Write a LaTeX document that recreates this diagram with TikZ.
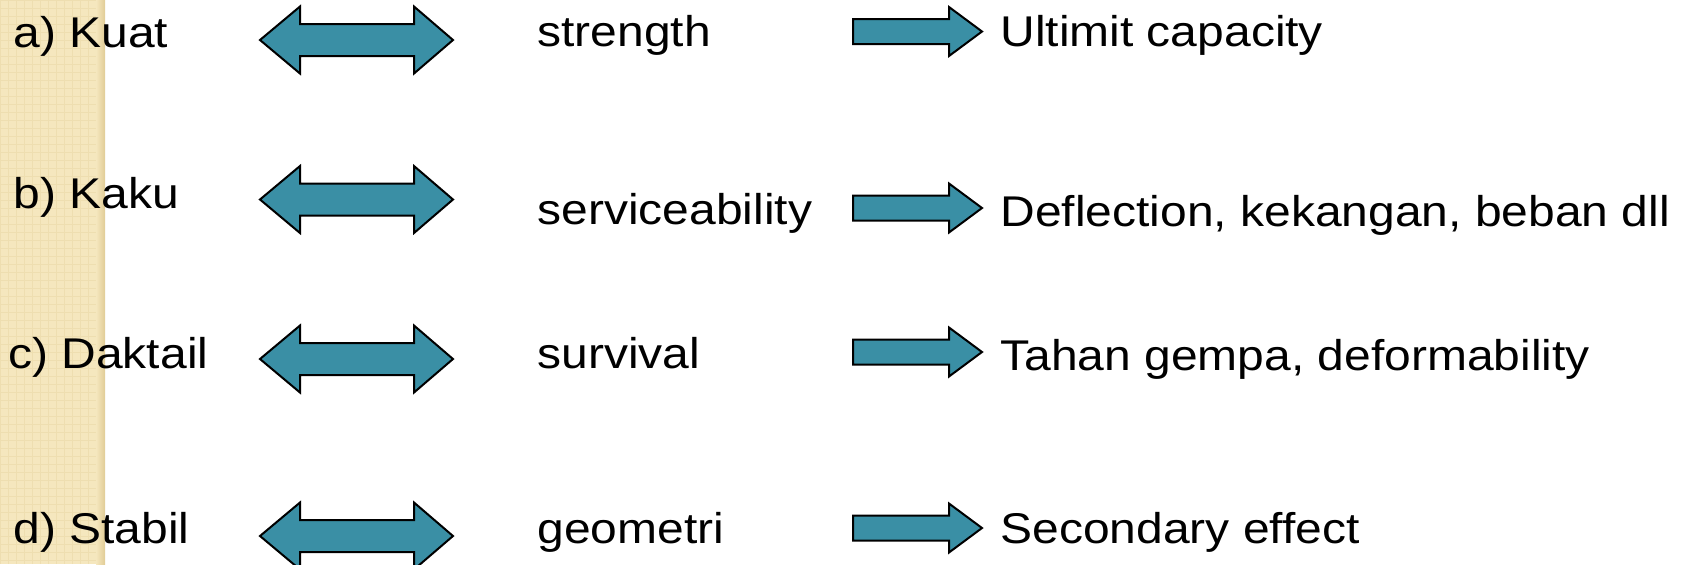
\documentclass[tikz,border=0pt]{standalone}
\usepackage{fontspec}
\setmainfont{Liberation Sans}
\usepackage{graphicx}
\definecolor{arrowfill}{RGB}{58,143,165}
\definecolor{stripbg}{RGB}{245,231,190}
\definecolor{stripline}{RGB}{238,222,176}
\definecolor{stripedge}{RGB}{225,204,150}
\newcommand{\wide}[1]{\scalebox{1.116}[1]{#1}}

\begin{document}
\begin{tikzpicture}[x=0.5pt,y=-0.5pt,
    txt/.style={anchor=base west,inner sep=0pt,font=\fontsize{21.5}{26}\selectfont},
    arr/.style={fill=arrowfill,draw=black,line width=1pt,line join=miter}]
    \useasboundingbox(0,0)rectangle(1686,564);
    \clip(0,0)rectangle(1686,564);
    % beige strip on the left
    \fill[stripbg](0,0)rectangle(105,564);
    \foreach \i in {0,8,...,104}
        \draw[stripline,line width=0.5pt](\i,0)--(\i,564);
    \foreach \j in {0,8,...,560}
        \draw[stripline,line width=0.5pt](0,\j)--(105,\j);
    \shade[left color=stripbg,right color=stripedge](96,0)rectangle(105,564);
    % double arrows
    \foreach \y in {40,199.5,359,536}
        \draw[arr](260,\y)--(300,\y-33.5)--(300,\y-16)--(414,\y-16)--(414,\y-33.5)--(453,\y)
            --(414,\y+33.5)--(414,\y+16)--(300,\y+16)--(300,\y+33.5)--cycle;
    % single arrows
    \foreach \y in {31.5,208,352,528}
        \draw[arr](853,\y-12.5)--(949,\y-12.5)--(949,\y-24.5)--(982,\y)
            --(949,\y+24.5)--(949,\y+12.5)--(853,\y+12.5)--cycle;
    % left column
    \node[txt](kuat)at(13,47){\wide{a) Kuat}};
    \node[txt](kaku)at(13,208){\wide{b) Kaku}};
    \node[txt](daktail)at(8,368){\wide{c) Daktail}};
    \node[txt](stabil)at(13,543){\wide{d) Stabil}};
    % middle column
    \node[txt](strength)at(537,46){\wide{strength}};
    \node[txt](service)at(537,224){\wide{serviceability}};
    \node[txt](survival)at(537,368){\wide{survival}};
    \node[txt](geometri)at(537,543){\wide{geometri}};
    % right column
    \node[txt](ultimit)at(1000,46){\wide{Ultimit capacity}};
    \node[txt](deflect)at(1000,226){\wide{Deflection, kekangan, beban dll}};
    \node[txt](gempa)at(1000,370){\wide{Tahan gempa, deformability}};
    \node[txt](second)at(1000,543){\wide{Secondary effect}};
\end{tikzpicture}
\end{document}
